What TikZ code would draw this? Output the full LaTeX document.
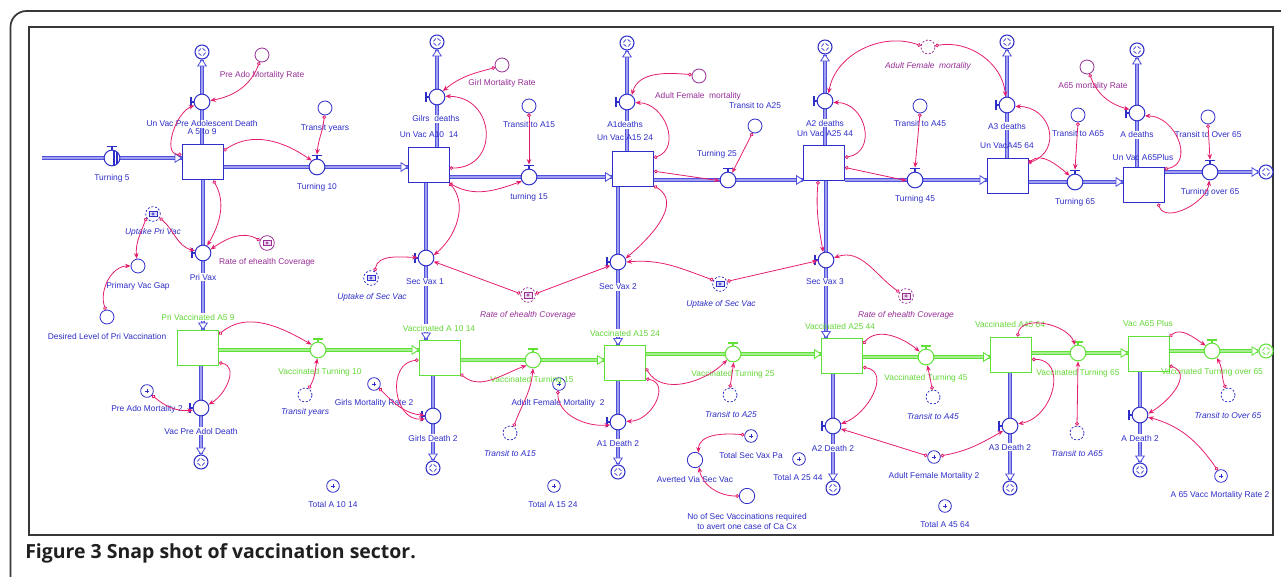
\documentclass[tikz,border=0pt]{standalone}
\usepackage{fontspec}
\setmainfont{Liberation Sans}
\newfontfamily\capfont{Open Sans}
\usetikzlibrary{arrows.meta,calc}
\pgfdeclarelayer{bg}
\pgfsetlayers{bg,main}
\definecolor{sdblue}{RGB}{45,45,200}
\definecolor{pipeblue}{RGB}{80,80,222}
\definecolor{sdgreen}{RGB}{95,225,55}
\definecolor{txtgreen}{RGB}{100,215,55}
\definecolor{conpink}{RGB}{228,30,110}
\definecolor{sdpurple}{RGB}{150,45,150}
\definecolor{framegray}{RGB}{55,55,55}
\begin{document}
\begin{tikzpicture}[x=0.75pt,y=0.75pt,
  every node/.style={font=\fontsize{6.3}{7.5}\selectfont},
  stock/.style={rectangle, draw=sdblue, line width=0.75pt, fill=white, minimum width=30.75pt, minimum height=26.25pt, inner sep=0pt},
  vstock/.style={stock, draw=sdgreen},
  valve/.style={circle, draw=#1, line width=0.75pt, fill=white, minimum size=11.8pt, inner sep=0pt},
  valve/.default=sdblue,
  handle/.style={draw=#1, line width=1.2pt},
  vL/.style={valve=#1, append after command={([shift={(-2pt,-3.8pt)}]\tikzlastnode.west) edge[handle=#1] ([shift={(-2pt,3.8pt)}]\tikzlastnode.west) (\tikzlastnode.west) edge[handle=#1] ([xshift=-2pt]\tikzlastnode.west)}},
  vL/.default=sdblue,
  vT/.style={valve=#1, append after command={([shift={(-3.8pt,2.2pt)}]\tikzlastnode.north) edge[handle=#1] ([shift={(3.8pt,2.2pt)}]\tikzlastnode.north) (\tikzlastnode.north) edge[handle=#1] ([yshift=2.2pt]\tikzlastnode.north)}},
  vT/.default=sdblue,
  cloud/.style={circle, draw=#1, fill=white, line width=0.8pt, minimum size=10.5pt, inner sep=0pt, path picture={\foreach \a in {20,110,200,290} \draw[#1, line width=0.5pt] ([shift={(\a:2.7pt)}]path picture bounding box.center) arc[start angle=\a, end angle=\a+60, radius=2.7pt];}},
  cloud/.default=sdblue,
  conv/.style={circle, draw=sdblue, line width=0.6pt, fill=white, minimum size=10.5pt, inner sep=0pt},
  pconv/.style={conv, draw=sdpurple},
  ghost/.style={conv, dash pattern=on 1.5pt off 1.3pt},
  pghost/.style={ghost, draw=sdpurple},
  sumc/.style={conv, minimum size=9.5pt, path picture={\draw[sdblue, line width=0.4pt] ([xshift=-1.3pt]path picture bounding box.center) -- ([xshift=1.3pt]path picture bounding box.center) ([yshift=-1.3pt]path picture bounding box.center) -- ([yshift=1.3pt]path picture bounding box.center);}},
  icon/.style={circle, draw=#1, line width=0.6pt, fill=white, minimum size=11pt, inner sep=0pt, path picture={\draw[#1, solid, fill=#1!15, line width=0.45pt] ([shift={(-3pt,-2.1pt)}]path picture bounding box.center) rectangle ([shift={(3pt,2.1pt)}]path picture bounding box.center); \draw[#1, solid, line width=0.4pt] (path picture bounding box.center) circle (0.9pt);}},
  dicon/.style={icon=#1, dash pattern=on 1.5pt off 1.3pt},
  lb/.style={text=sdblue, inner sep=0.6pt},
  lbw/.style={lb, fill=white},
  lp/.style={text=sdpurple, inner sep=0.6pt},
  lg/.style={text=txtgreen, inner sep=0.6pt},
  lgw/.style={lg, fill=white},
  li/.style={lb, font=\fontsize{6.3}{7.5}\selectfont\itshape},
  lpi/.style={lp, font=\fontsize{6.3}{7.5}\selectfont\itshape},
  con/.style={draw=conpink, line width=0.6pt, {Circle[open,length=2.8pt,width=2.8pt]}-{Stealth[length=4.2pt,width=3.4pt]}},
  pipe/.style={draw=pipeblue, line width=0.95pt, double=pipeblue!55, double distance=1.5pt},
  gpipe/.style={draw=sdgreen, line width=0.95pt, double=sdgreen!55, double distance=1.5pt},
  farrow/.pic={\draw[pic actions, fill=white, line width=0.65pt] (0,0) -- (-6.5,4.3) -- (-6.5,-4.3) -- cycle;}
]
\useasboundingbox (0,0) rectangle (1281,-577);
% frames
\draw[framegray, line width=1.3pt, rounded corners=12] (1300,-11) -- (10.5,-11) -- (10.5,-600);
\draw[framegray, line width=0.9pt] (29,-27) rectangle (1273,-535);

% ---------- stocks ----------
\node[stock] (S59) at (202.5,-162.5) {};
\node[stock] (S1014) at (428.5,-165.5) {};
\node[stock] (S1524) at (633,-169) {};
\node[stock] (S2544) at (824,-163) {};
\node[stock] (S4564) at (1007.5,-176) {};
\node[stock] (S65) at (1143.5,-185.5) {};
\node[vstock] (V59) at (198,-347.5) {};
\node[vstock] (V1014) at (439.5,-357.5) {};
\node[vstock] (V1524) at (625,-363) {};
\node[vstock] (V2544) at (842,-356) {};
\node[vstock] (V4564) at (1011,-354.5) {};
\node[vstock] (V65) at (1148.5,-353.5) {};

% ---------- horizontal valves ----------
\coordinate (src5) at (42,-158);
\node[vT, path picture={\foreach \d in {0.7,1.9,3.1,4.3} \draw[sdblue, line width=0.5pt] ([xshift=\d pt]path picture bounding box.north) -- ([xshift=\d pt]path picture bounding box.south);}] (T5) at (112,-158) {};
\node[vT] (T10) at (317,-167) {};
\node[vT] (TV15) at (529,-177) {};
\node[vT] (T25) at (728,-180) {};
\node[vT] (T45) at (915,-180) {};
\node[vT] (T65) at (1075,-182) {};
\node[vT] (TO65) at (1210,-172) {};
\node[cloud] (CTO65) at (1266,-172) {};

% ---------- unvaccinated death valves ----------
\node[vL] (D59) at (202,-102) {};  \node[cloud] (CD59) at (202,-52) {};
\node[vL] (GD) at (437,-97) {};    \node[cloud] (CGD) at (437,-42) {};
\node[vL] (A1D) at (627,-102) {};  \node[cloud] (CA1D) at (627,-43) {};
\node[vL] (A2D) at (825,-101) {};  \node[cloud] (CA2D) at (825,-47) {};
\node[vL] (A3D) at (1007,-105) {}; \node[cloud] (CA3D) at (1007,-42) {};
\node[vL] (AD) at (1137,-113) {};  \node[cloud] (CAD) at (1137,-50) {};

% ---------- vaccination valves ----------
\node[vL] (PV) at (203,-253) {};
\node[vL] (SV1) at (426,-258) {};
\node[vL] (SV2) at (618,-262) {};
\node[vL] (SV3) at (826,-260) {};

% ---------- vaccinated ageing valves ----------
\node[vT=sdgreen] (VT10) at (318,-350) {};
\node[vT=sdgreen] (VT15) at (533,-360) {};
\node[vT=sdgreen] (VT25) at (733,-354) {};
\node[vT=sdgreen] (VT45) at (926,-357) {};
\node[vT=sdgreen] (VT65) at (1078,-353) {};
\node[vT=sdgreen] (VTO65) at (1212,-351) {};
\node[cloud=sdgreen] (CVTO65) at (1266,-351) {};

% ---------- vaccinated death valves ----------
\node[vL] (VPD) at (201,-408) {};   \node[cloud] (CVPD) at (201,-462) {};
\node[vL] (GD2) at (433,-416) {};   \node[cloud] (CGD2) at (433,-468) {};
\node[vL] (A1D2) at (618,-422) {};  \node[cloud] (CA1D2) at (618,-472) {};
\node[vL] (A2D2) at (833,-426) {};  \node[cloud] (CA2D2) at (833,-488) {};
\node[vL] (A3D2) at (1010,-426) {}; \node[cloud] (CA3D2) at (1010,-488) {};
\node[vL] (AD2) at (1140,-415) {};  \node[cloud] (CAD2) at (1140,-470) {};

% ---------- converters ----------
\node[pconv] (cPAMR) at (262,-55) {};
\node[conv] (cTY) at (325,-108) {};
\node[pconv] (cGMR) at (502,-65) {};
\node[conv] (cTA15) at (529,-106) {};
\node[pconv] (cAFM) at (699,-76) {};
\node[conv] (cTA25) at (755,-126) {};
\node[pghost] (gAFM) at (928,-47) {};
\node[conv] (cTA45) at (920,-106) {};
\node[conv] (cTA65) at (1078,-115) {};
\node[pconv] (cA65MR) at (1087,-67) {};
\node[conv] (cTO65) at (1208,-117) {};
\node[icon=sdpurple] (iREC1) at (267,-243) {};
\node[dicon=sdblue] (iUPV) at (153,-214) {};
\node[conv] (cPVG) at (138,-266) {};
\node[conv] (cDLPV) at (107,-317) {};
\node[dicon=sdblue] (iUSV1) at (371,-278) {};
\node[dicon=sdpurple] (iREC2) at (528,-295) {};
\node[dicon=sdblue] (iUSV2) at (720,-284) {};
\node[dicon=sdpurple] (iREC3) at (906,-296) {};
\node[ghost] (gTY) at (305,-395) {};
\node[sumc] (sPAM2) at (147,-391) {};
\node[sumc] (sGMR2) at (374,-384) {};
\node[sumc] (sAFM2a) at (559,-384) {};
\node[ghost] (gTA15) at (510,-433) {};
\node[ghost] (gTA25) at (730,-395) {};
\node[ghost] (gTA45) at (933,-397) {};
\node[ghost] (gTA65) at (1077,-433) {};
\node[ghost] (gTO65) at (1228,-395) {};
\node[sumc] (sT1014) at (333,-486) {};
\node[sumc] (sT1524) at (554,-486) {};
\node[sumc] (sT2544) at (799,-459) {};
\node[sumc] (sT4564) at (945,-506) {};
\node[sumc] (sTSVP) at (751,-436) {};
\node[conv, minimum size=11.5pt] (cAVSV) at (695,-460) {};
\node[conv, minimum size=11.5pt] (cNSV) at (747,-496) {};
\node[sumc] (sAFM2b) at (934,-457) {};
\node[sumc] (sA65) at (1221,-476) {};

% ---------- pipes ----------
\begin{pgfonlayer}{bg}
\draw[pipe] (src5) -- (S59.west |- T5);
\draw[pipe] (S59.east |- T10) -- (S1014.west |- T10);
\draw[pipe] (S1014.east |- TV15) -- (S1524.west |- TV15);
\draw[pipe] (S1524.east |- T25) -- (S2544.west |- T25);
\draw[pipe] (S2544.east |- T45) -- (S4564.west |- T45);
\draw[pipe] (S4564.east |- T65) -- (S65.west |- T65);
\draw[pipe] (S65.east |- TO65) -- (CTO65);
\draw[pipe] (S59.north -| D59) -- (CD59);
\draw[pipe] (S1014.north -| GD) -- (CGD);
\draw[pipe] (S1524.north -| A1D) -- (CA1D);
\draw[pipe] (S2544.north -| A2D) -- (CA2D);
\draw[pipe] (S4564.north -| A3D) -- (CA3D);
\draw[pipe] (S65.north -| AD) -- (CAD);
\draw[pipe] (S59.south -| PV) -- (V59.north -| PV);
\draw[pipe] (S1014.south -| SV1) -- (V1014.north -| SV1);
\draw[pipe] (S1524.south -| SV2) -- (V1524.north -| SV2);
\draw[pipe] (S2544.south -| SV3) -- (V2544.north -| SV3);
\draw[gpipe] (V59.east |- VT10) -- (V1014.west |- VT10);
\draw[gpipe] (V1014.east |- VT15) -- (V1524.west |- VT15);
\draw[gpipe] (V1524.east |- VT25) -- (V2544.west |- VT25);
\draw[gpipe] (V2544.east |- VT45) -- (V4564.west |- VT45);
\draw[gpipe] (V4564.east |- VT65) -- (V65.west |- VT65);
\draw[gpipe] (V65.east |- VTO65) -- (CVTO65);
\draw[pipe] (V59.south -| VPD) -- (CVPD);
\draw[pipe] (V1014.south -| GD2) -- (CGD2);
\draw[pipe] (V1524.south -| A1D2) -- (CA1D2);
\draw[pipe] (V2544.south -| A2D2) -- (CA2D2);
\draw[pipe] (V4564.south -| A3D2) -- (CA3D2);
\draw[pipe] (V65.south -| AD2) -- (CAD2);
\end{pgfonlayer}

% ---------- flow arrowheads ----------
\pic[draw=pipeblue] at (S59.west |- T5) {farrow};
\pic[draw=pipeblue] at (S1014.west |- T10) {farrow};
\pic[draw=pipeblue] at (S1524.west |- TV15) {farrow};
\pic[draw=pipeblue] at (S2544.west |- T25) {farrow};
\pic[draw=pipeblue] at (S4564.west |- T45) {farrow};
\pic[draw=pipeblue] at (S65.west |- T65) {farrow};
\pic[draw=pipeblue] at (CTO65.west) {farrow};
\pic[draw=pipeblue, rotate=90] at (CD59.south) {farrow};
\pic[draw=pipeblue, rotate=90] at (CGD.south) {farrow};
\pic[draw=pipeblue, rotate=90] at (CA1D.south) {farrow};
\pic[draw=pipeblue, rotate=90] at (CA2D.south) {farrow};
\pic[draw=pipeblue, rotate=90] at (CA3D.south) {farrow};
\pic[draw=pipeblue, rotate=90] at (CAD.south) {farrow};
\pic[draw=pipeblue, rotate=-90] at (V59.north -| PV) {farrow};
\pic[draw=pipeblue, rotate=-90] at (V1014.north -| SV1) {farrow};
\pic[draw=pipeblue, rotate=-90] at (V1524.north -| SV2) {farrow};
\pic[draw=pipeblue, rotate=-90] at (V2544.north -| SV3) {farrow};
\pic[draw=sdgreen] at (V1014.west |- VT10) {farrow};
\pic[draw=sdgreen] at (V1524.west |- VT15) {farrow};
\pic[draw=sdgreen] at (V2544.west |- VT25) {farrow};
\pic[draw=sdgreen] at (V4564.west |- VT45) {farrow};
\pic[draw=sdgreen] at (V65.west |- VT65) {farrow};
\pic[draw=sdgreen] at (CVTO65.west) {farrow};
\pic[draw=pipeblue, rotate=-90] at (CVPD.north) {farrow};
\pic[draw=pipeblue, rotate=-90] at (CGD2.north) {farrow};
\pic[draw=pipeblue, rotate=-90] at (CA1D2.north) {farrow};
\pic[draw=pipeblue, rotate=-90] at (CA2D2.north) {farrow};
\pic[draw=pipeblue, rotate=-90] at (CA3D2.north) {farrow};
\pic[draw=pipeblue, rotate=-90] at (CAD2.north) {farrow};

% ---------- labels: top row ----------
\node[lp] (lPAMR) at (262,-75) {Pre Ado Mortality Rate};
\node[lbw] (lD59) at (202,-124) {Un Vac Pre Adolescent Death};
\node[lb] (lS59) at (202,-132) {A 5 to 9};
\node[lb] (lT5) at (112,-178) {Turning 5};
\node[lb] (lTY) at (325,-128) {Transit years};
\node[lb] (lT10) at (317,-187) {Turning 10};
\node[lp] (lGMR) at (502,-83) {Girl Mortality Rate};
\node[lbw] (lGD) at (436,-119) {Gilrs\ \ deaths};
\node[lb] (lS1014) at (429,-135) {Un Vac A10\ \ 14};
\node[lb] (lTA15) at (529,-125) {Transit to A15};
\node[lb] (lTV15) at (529,-197) {turning 15};
\node[lbw] (lA1D) at (625,-125) {A1deaths};
\node[lb] (lS1524) at (625,-138) {Un Vac A15 24};
\node[lp] (lAFM) at (698,-96) {Adult Female\ \ mortality};
\node[lb] (lTA25) at (755,-106) {Transit to A25};
\node[lb] (lT25) at (717,-154) {Turning 25};
\node[lbw] (lA2D) at (825,-123) {A2 deaths};
\node[lb] (lS2544) at (825,-134) {Un Vac A25 44};
\node[lpi] (lgAFM) at (928,-66) {Adult Female\ \ mortality};
\node[lb] (lTA45) at (920,-123) {Transit to A45};
\node[lb] (lT45) at (915,-199) {Turning 45};
\node[lbw] (lA3D) at (1007,-126) {A3 deaths};
\node[lb] (lS4564) at (1007,-146) {Un VacA45 64};
\node[lb] (lTA65) at (1078,-133) {Transit to A65};
\node[lb] (lT65) at (1075,-202) {Turning 65};
\node[lp] (lA65MR) at (1093,-86) {A65 mortality Rate};
\node[lbw] (lAD) at (1137,-135) {A deaths};
\node[lb] (lS65) at (1143,-157) {Un Vac A65Plus};
\node[lb] (lTO65c) at (1208,-135) {Transit to Over 65};
\node[lb] (lTO65) at (1210,-192) {Turning over 65};

% ---------- labels: middle ----------
\node[li] (lUPV) at (153,-232) {Uptake Pri Vac};
\node[lp] (lREC1) at (267,-262) {Rate of ehealth Coverage};
\node[lbw] (lPV) at (203,-277) {Pri Vax};
\node[lb] (lPVG) at (138,-286) {Primary Vac Gap};
\node[lb] (lDLPV) at (107,-336) {Desired Level of Pri Vaccination};
\node[lbw] (lSV1) at (425,-282) {Sec Vax 1};
\node[li] (lUSV1) at (372,-297) {Uptake of Sec Vac};
\node[lpi] (lREC2) at (528,-315) {Rate of ehealth Coverage};
\node[lbw] (lSV2) at (618,-287) {Sec Vax 2};
\node[li] (lUSV2) at (721,-304) {Uptake of Sec Vac};
\node[lbw] (lSV3) at (825,-282) {Sec Vax 3};
\node[lpi] (lREC3) at (906,-315) {Rate of ehealth Coverage};

% ---------- labels: vaccinated row ----------
\node[lgw] (lV59) at (198,-317) {Pri Vaccinated A5 9};
\node[lgw] (lV1014) at (439,-328) {Vaccinated A 10 14};
\node[lgw] (lV1524) at (625,-333) {Vaccinated A15 24};
\node[lg] (lV2544) at (840,-326) {Vaccinated A25 44};
\node[lg] (lV4564) at (1010,-324) {Vaccinated A45 64};
\node[lg] (lV65) at (1148,-323) {Vac A65 Plus};
\node[lg] (lVT10) at (320,-372) {Vaccinated Turning 10};
\node[lg] (lVT15) at (532,-380) {Vaccinated Turning 15};
\node[lg] (lVT25) at (733,-374) {Vaccinated Turning 25};
\node[lg] (lVT45) at (926,-378) {Vaccinated Turning 45};
\node[lg] (lVT65) at (1078,-373) {Vaccinated Turning 65};
\node[lg] (lVTO65) at (1212,-372) {Vaccinated Turning over 65};
\node[li] (lgTY) at (305,-412) {Transit years};
\node[lb] (lPAM2) at (147,-409) {Pre Ado Mortality 2};
\node[lbw] (lVPD) at (201,-431) {Vac Pre Adol Death};
\node[lb] (lGMR2) at (374,-403) {Girls Mortality Rate 2};
\node[lbw] (lGD2) at (433,-438) {Girls Death 2};
\node[lb] (lAFM2a) at (558,-403) {Adult Female Mortality\ \ 2};
\node[li] (lgTA15) at (510,-453) {Transit to A15};
\node[lbw] (lA1D2) at (618,-443) {A1 Death 2};
\node[li] (lgTA25) at (731,-414) {Transit to A25};
\node[li] (lgTA45) at (933,-416) {Transit to A45};
\node[lbw] (lA2D2) at (833,-448) {A2 Death 2};
\node[lb] (lAFM2b) at (934,-476) {Adult Female Mortality 2};
\node[li] (lgTA65) at (1077,-453) {Transit to A65};
\node[lbw] (lA3D2) at (1010,-447) {A3 Death 2};
\node[li] (lgTO65) at (1228,-415) {Transit to Over 65};
\node[lbw] (lAD2) at (1140,-438) {A Death 2};
\node[lb] (lA65) at (1220,-495) {A 65 Vacc Mortality Rate 2};
\node[lb] (lT1014) at (333,-504) {Total A 10 14};
\node[lb] (lT1524) at (553,-504) {Total A 15 24};
\node[lb] (lTSVP) at (751,-455) {Total Sec Vax Pa};
\node[lb] (lAVSV) at (695,-479) {Averted Via Sec Vac};
\node[lb] (lT2544) at (798,-477) {Total A 25 44};
\node[lb, align=center] (lNSV) at (747,-521) {No of Sec Vaccinations required\\to avert one case of Ca Cx};
\node[lb] (lT4564) at (945,-524) {Total A 45 64};

% ---------- connectors: unvaccinated ----------
\draw[con] (cPAMR.250) to[out=-110,in=10] (D59.10);
\draw[con] (S59.159) to[out=180,in=200] (D59.205);
\draw[con] (S59.29) to[out=35,in=145] (T10.130);
\draw[con] (cTY.265) to[out=-95,in=85] ([yshift=3pt]T10.north);
\draw[con] (S59.-59) to[out=-60,in=60] (PV.60);
\draw[con] (iREC1.160) to[out=150,in=35] (PV.25);
\draw[con] (iUPV.-30) to[out=-40,in=165] (PV.165);
\draw[con] (iUPV.210) to[out=-110,in=95] (cPVG.100);
\draw[con] (cDLPV.100) to[out=110,in=180] (cPVG.180);
\draw[con] (S1014.-7) to[out=0,in=0,looseness=1.8] (GD.5);
\draw[con] (cGMR.200) to[out=195,in=40] (GD.45);
\draw[con] (S1014.-40) to[out=-30,in=200] (TV15.210);
\draw[con] (cTA15.-90) -- ([yshift=3pt]TV15.north);
\draw[con] (S1014.-40) to[out=-50,in=40] (SV1.20);
\draw[con] (iUSV1.60) to[out=80,in=180] (SV1.175);
\draw[con] (iREC2.170) -- (SV1.-25);
\draw[con] (iREC2.10) -- (SV2.205);
\draw[con] (cAFM.170) to[out=175,in=75] (A1D.55);
\draw[con] (S1524.28) to[out=20,in=0,looseness=1.3] (A1D.-5);
\draw[con] (S1524.-6) -- (T25.185);
\draw[con] (cTA25.-110) -- (T25.60);
\draw[con] (S1524.-39) to[out=-30,in=40,looseness=1.1] (SV2.25);
\draw[con] (iUSV2.150) to[out=160,in=5] (SV2.0);
\draw[con] (iUSV2.20) -- (SV3.185);
\draw[con] (gAFM.170) to[out=160,in=80] (A2D.65);
\draw[con] (gAFM.10) to[out=10,in=95] (A3D.100);
\draw[con] (S2544.15) to[out=10,in=0,looseness=1.5] (A2D.-10);
\draw[con] (cTA45.-90) -- ([yshift=3pt]T45.north);
\draw[con] (S2544.-12) -- (T45.185);
\draw[con] (S2544.-108) to[out=-95,in=100] (SV3.110);
\draw[con] (iREC3.150) to[out=145,in=20] (SV3.15);
\draw[con] (S4564.32) to[out=20,in=0,looseness=1.6] (A3D.-10);
\draw[con] (S4564.32) to[out=40,in=140] (T65.130);
\draw[con] (cTA65.-90) -- ([yshift=3pt]T65.north);
\draw[con] (cA65MR.-70) to[out=-70,in=165] (AD.155);
\draw[con] (S65.38) to[out=10,in=0,looseness=1.4] (AD.-20);
\draw[con] (cTO65.-90) -- ([yshift=3pt]TO65.north);
\draw[con] (S65.-51) to[out=-70,in=-95] (TO65.-95);

% ---------- connectors: vaccinated ----------
\draw[con] (V59.32) to[out=40,in=150] (VT10.140);
\draw[con] (gTY.60) to[out=60,in=-100] (VT10.-95);
\draw[con] (V59.-36) to[out=-10,in=30,looseness=1.2] (VPD.25);
\draw[con] (sPAM2.-40) to[out=-40,in=185] (VPD.195);
\draw[con] (V1014.187) to[out=185,in=185,looseness=1.4] (GD2.200);
\draw[con] (sGMR2.-40) to[out=-45,in=175] (GD2.175);
\draw[con] (V1014.-38) to[out=-40,in=200] (VT15.220);
\draw[con] (gTA15.60) to[out=70,in=-95] (VT15.-90);
\draw[con] (sAFM2a.-100) to[out=-90,in=185] (A1D2.200);
\draw[con] (V1524.-14) to[out=-60,in=-135] (VT25.225);
\draw[con] (V1524.-37) to[out=-10,in=0,looseness=1.4] (A1D2.5);
\draw[con] (gTA25.90) -- (VT25.-85);
\draw[con] (V2544.30) to[out=50,in=140] (VT45.140);
\draw[con] (gTA45.95) -- (VT45.-80);
\draw[con] (V2544.-28) to[out=-10,in=20,looseness=1.2] (A2D2.15);
\draw[con] (sAFM2b.170) -- (A2D2.-20);
\draw[con] (sAFM2b.10) to[out=10,in=-150] (A3D2.215);
\draw[con] (V4564.70) to[out=80,in=110] (VT65.110);
\draw[con] (gTA65.90) -- (VT65.-90);
\draw[con] (V4564.-13) to[out=0,in=10,looseness=1.4] (A3D2.15);
\draw[con] (V65.39) to[out=40,in=145] (VTO65.140);
\draw[con] (gTO65.110) to[out=110,in=-60] (VTO65.-55);
\draw[con] (V65.-30) to[out=-20,in=30,looseness=1.2] (AD2.10);
\draw[con] (sA65.120) to[out=125,in=-15] (AD2.-15);
\draw[con] (sTSVP.170) to[out=175,in=90] (cAVSV.65);
\draw[con] (cNSV.180) to[out=180,in=-80] (cAVSV.-60);

% ---------- caption ----------
\node[anchor=base west, inner sep=0pt, text=black!88, font=\capfont\bfseries\fontsize{14.6}{17}\selectfont] (cap) at (25,-558) {Figure 3 Snap shot of vaccination sector.};
\end{tikzpicture}
\end{document}
